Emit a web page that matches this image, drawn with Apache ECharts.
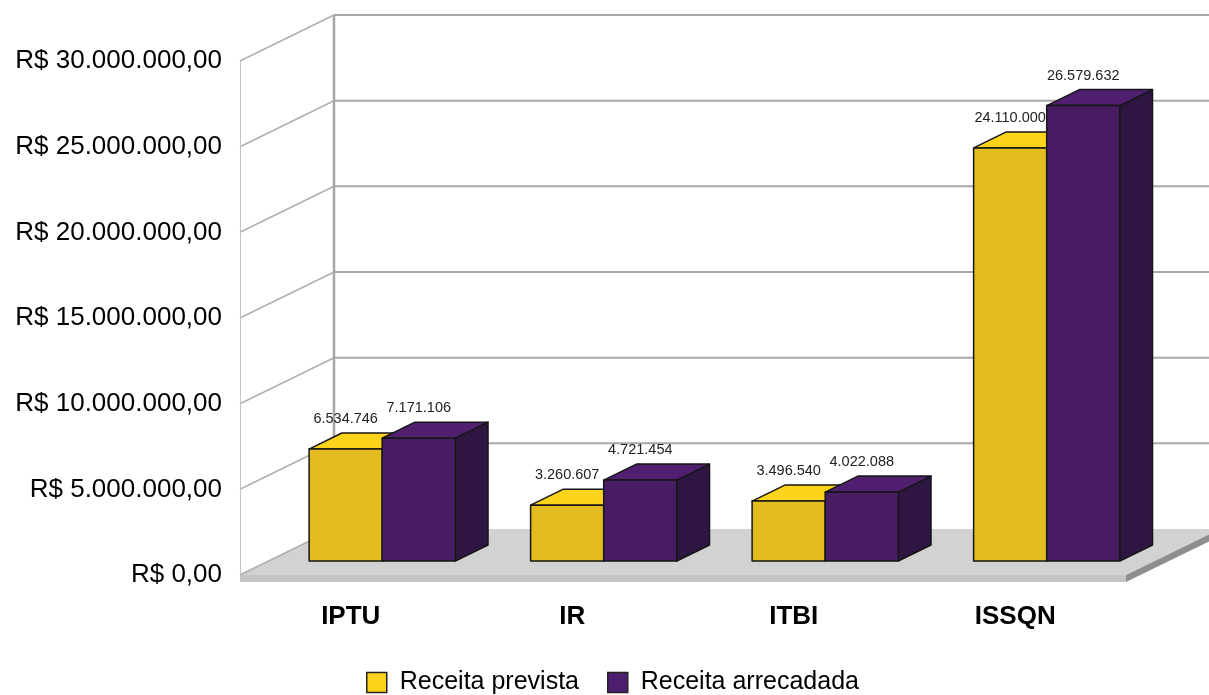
<!DOCTYPE html>
<html>
<head>
<meta charset="utf-8">
<script src="https://cdn.jsdelivr.net/npm/echarts@6/dist/echarts.min.js"></script>
<style>
html,body{margin:0;padding:0;background:#fff;}
#chart{width:1209px;height:695px;}
</style>
</head>
<body>
<div id="chart"></div>
<script>
const categories = ['IPTU', 'IR', 'ITBI', 'ISSQN'];
const receitaPrevista = [6534746, 3260607, 3496540, 24110000];
const receitaArrecadada = [7171106, 4721454, 4022088, 26579632];
const yTicks = [0, 5000000, 10000000, 15000000, 20000000, 25000000, 30000000];
const seriesNames = ['Receita prevista', 'Receita arrecadada'];

// 3D projection constants (pixels)
const DX = 94, DY = -46;
const F1 = 0.304, F2 = 0.652;
const FONT = '"Liberation Sans", Arial, sans-serif';

function fmtInt(v) {
  return String(Math.round(v)).replace(/\B(?=(\d{3})+(?!\d))/g, '.');
}
function fmtMoney(v) {
  return 'R$ ' + fmtInt(v) + ',00';
}

function renderBackdrop(params, api) {
  const cs = params.coordSys;
  const x0 = cs.x, x1 = cs.x + cs.width;
  const yb = api.coord([0, yTicks[0]])[1];
  const yt = api.coord([0, yTicks[yTicks.length - 1]])[1];
  const children = [];
  // floor
  children.push({type: 'polygon', shape: {points: [[x0, yb], [x1, yb], [x1 + DX, yb + DY], [x0 + DX, yb + DY]]},
    style: {fill: '#d2d2d2'}});
  children.push({type: 'polygon', shape: {points: [[x0, yb], [x1, yb], [x1, yb + 7], [x0, yb + 7]]},
    style: {fill: '#c4c4c4'}});
  children.push({type: 'polygon', shape: {points: [[x1, yb], [x1 + DX, yb + DY], [x1 + DX, yb + DY + 7], [x1, yb + 7]]},
    style: {fill: '#8e8e8e'}});
  // back wall gridlines
  yTicks.forEach(function (t, k) {
    const y = api.coord([0, t])[1];
    if (k > 0) {
      children.push({type: 'line', shape: {x1: x0 + DX, y1: y + DY, x2: x1 + DX + 20, y2: y + DY},
        style: {stroke: '#a9a9a9', lineWidth: 2}});
    }
    children.push({type: 'line', shape: {x1: x0, y1: y, x2: x0 + DX, y2: y + DY},
      style: {stroke: '#b0b0b0', lineWidth: 1.6}});
  });
  // back wall left edge
  children.push({type: 'line', shape: {x1: x0 + DX, y1: yt + DY, x2: x0 + DX, y2: yb + DY},
    style: {stroke: '#a6a6a6', lineWidth: 2.5}});
  // front left edge
  children.push({type: 'line', shape: {x1: x0 + 0.5, y1: yt, x2: x0 + 0.5, y2: yb},
    style: {stroke: '#c4c4c4', lineWidth: 1}});
  return {type: 'group', children: children};
}

function makeBarRender(idx, cFront, cTop, cSide) {
  return function (params, api) {
    const i = api.value(0), v = api.value(1);
    const top = api.coord([i, v]);
    const base = api.coord([i, 0]);
    const band = api.size([1, 0])[0];
    const w = band * 0.33;
    const off = band * 0.013;
    const fl = top[0] + off + F1 * DX + (idx === 0 ? -w : 0);
    const fr = fl + w;
    const ft = top[1] + F1 * DY;
    const fb = base[1] + F1 * DY;
    const bdx = (F2 - F1) * DX, bdy = (F2 - F1) * DY;
    const stroke = {stroke: '#161616', lineWidth: 1.5, lineJoin: 'round'};
    return {type: 'group', children: [
      {type: 'polygon', shape: {points: [[fr, ft], [fr + bdx, ft + bdy], [fr + bdx, fb + bdy], [fr, fb]]},
        style: Object.assign({fill: cSide}, stroke)},
      {type: 'polygon', shape: {points: [[fl, ft], [fr, ft], [fr + bdx, ft + bdy], [fl + bdx, ft + bdy]]},
        style: Object.assign({fill: cTop}, stroke)},
      {type: 'polygon', shape: {points: [[fl, ft], [fr, ft], [fr, fb], [fl, fb]]},
        style: Object.assign({fill: cFront}, stroke)},
      {type: 'text', style: {text: fmtInt(v), x: (fl + fr) / 2, y: ft + bdy - 14,
        align: 'center', verticalAlign: 'middle', font: '14.5px ' + FONT, fill: '#222'}}
    ]};
  };
}

const chart = echarts.init(document.getElementById('chart'), null, {renderer: 'canvas'});
chart.setOption({
  animation: false,
  backgroundColor: '#ffffff',
  grid: {left: 240, right: 83, top: 61, bottom: 120, containLabel: false},
  xAxis: {
    type: 'category', data: categories,
    axisLine: {show: false}, axisTick: {show: false}, splitLine: {show: false},
    axisLabel: {margin: 29, fontSize: 26, fontWeight: 'bold', fontFamily: FONT, color: '#000'}
  },
  yAxis: {
    type: 'value', min: 0, max: 30000000, interval: 5000000,
    axisLine: {show: false}, axisTick: {show: false}, splitLine: {show: false},
    axisLabel: {margin: 18, fontSize: 26, fontFamily: FONT, color: '#000', formatter: fmtMoney}
  },
  legend: {
    top: 665, left: 361, icon: 'rect', itemWidth: 20, itemHeight: 20, itemGap: 28,
    textStyle: {fontSize: 25, fontFamily: FONT, color: '#000', padding: [0, 0, 0, 8]},
    data: [
      {name: seriesNames[0], itemStyle: {color: '#fdd31c', borderColor: '#222', borderWidth: 1.5}},
      {name: seriesNames[1], itemStyle: {color: '#4e1f6e', borderColor: '#222', borderWidth: 1.5}}
    ]
  },
  series: [
    {type: 'custom', name: '_backdrop', z: 1, silent: true, renderItem: renderBackdrop,
      data: [[0, 0]], encode: {x: 0, y: 1}},
    {type: 'custom', name: seriesNames[0], z: 2, itemStyle: {color: '#fdd31c'},
      renderItem: makeBarRender(0, '#e3bc1f', '#fdd31c', '#b8960f'),
      data: receitaPrevista.map(function (v, i) { return [i, v]; }), encode: {x: 0, y: 1}},
    {type: 'custom', name: seriesNames[1], z: 3, itemStyle: {color: '#4e1f6e'},
      renderItem: makeBarRender(1, '#471c62', '#511f70', '#2e1542'),
      data: receitaArrecadada.map(function (v, i) { return [i, v]; }), encode: {x: 0, y: 1}}
  ]
});
</script>
</body>
</html>
